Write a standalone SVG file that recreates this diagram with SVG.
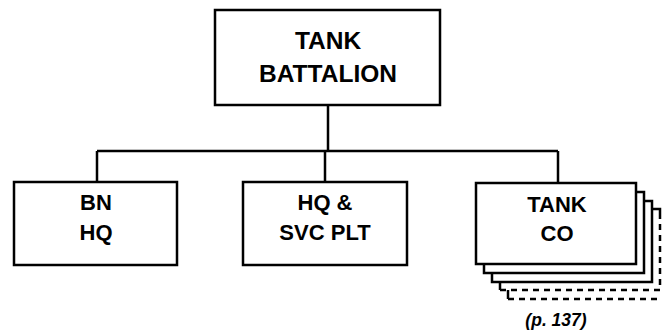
<svg xmlns="http://www.w3.org/2000/svg" width="662" height="331" viewBox="0 0 662 331">
<style>
.box{fill:#fff;stroke:#000;stroke-width:2.5}
.ln{fill:none;stroke:#000;stroke-width:2.5}
.dash{fill:none;stroke:#000;stroke-width:2.5;stroke-dasharray:6 5}
.t{font-family:"Liberation Sans",Arial,sans-serif;font-weight:bold;fill:#000;text-anchor:middle}
</style>
<rect width="662" height="331" fill="#fff"/>
<g id="connectors">
<path class="ln" d="M328 105V151M97 151H558M97 151V182M325 151V182M558 151V182"/>
</g>
<g id="tank-battalion">
<rect class="box" x="215" y="10" width="225" height="95"/>
<text class="t" x="328" y="49" font-size="24.5">TANK</text>
<text class="t" x="328" y="82" font-size="24.5">BATTALION</text>
</g>
<g id="bn-hq">
<rect class="box" x="14" y="182" width="163" height="83"/>
<text class="t" x="96" y="210" font-size="22">BN</text>
<text class="t" x="96" y="240" font-size="22">HQ</text>
</g>
<g id="hq-svc-plt">
<rect class="box" x="243" y="182" width="164" height="83"/>
<text class="t" x="325" y="210" font-size="22">HQ &amp;</text>
<text class="t" x="325" y="240" font-size="22">SVC PLT</text>
</g>
<g id="tank-co">
<path class="ln" d="M508 290V299"/>
<path class="dash" d="M508 299H662"/>
<path class="ln" d="M500 282V290M652 209H660V215"/>
<path class="dash" d="M500 290H660V215"/>
<path class="ln" d="M492 273V282H652V201H644"/>
<path class="ln" d="M484 264V273H644V192H636"/>
<rect class="box" x="476" y="183" width="160" height="81"/>
<text class="t" x="557" y="212" font-size="22">TANK</text>
<text class="t" x="557" y="241" font-size="22">CO</text>
</g>
<text class="t" x="556" y="326" font-size="17.5" font-style="italic">(p. 137)</text>
</svg>
